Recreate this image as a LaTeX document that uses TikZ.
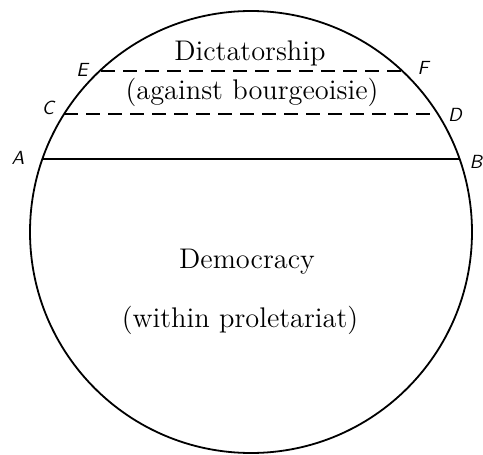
\documentclass[tikz,border=0pt]{standalone}
\usetikzlibrary{positioning}
\tikzset{
  rim/.style={draw, line width=0.9pt},
  cut/.style={line width=0.8pt},
  cutdash/.style={cut, dash pattern=on 7pt off 4pt},
  pt/.style={font=\fontsize{9.5}{11}\selectfont\sffamily\itshape, inner sep=1pt},
  region/.style={font=\fontsize{14.2}{16}\selectfont, inner sep=1pt},
}

\begin{document}
\begin{tikzpicture}[x=0.5pt, y=-0.5pt]
\useasboundingbox (0,0) rectangle (483,455);

%% ── the whole ─────────────────────────────────────────────────────────────
\node[rim, circle, minimum size=221pt, inner sep=0pt] (whole) at (251,232) {};

%% ── points on the rim ─────────────────────────────────────────────────────
\coordinate (A) at (42,159);  \coordinate (B) at (460,159);
\coordinate (C) at (64,114);  \coordinate (D) at (438,114);
\coordinate (E) at (101,71);  \coordinate (F) at (402,71);

\node[pt] (lA) at (18,158) {A};
\node[pt] (lB) at (476,162) {B};
\node[pt] (lC) at (48,108) {C};
\node[pt] (lD) at (455,115) {D};
\node[pt] (lE) at (82,70) {E};
\node[pt] (lF) at (423,68) {F};

%% ── the chords ────────────────────────────────────────────────────────────
\draw[cut] (A) -- (B);
\draw[cutdash] (C) -- (D);
\draw[cutdash] (E) -- (F);

%% ── the two regions ───────────────────────────────────────────────────────
\node[region] (dict) at (250,53) {Dictatorship};
\node[region] (dictsub) at (252,92) {(against bourgeoisie)};
\node[region] (demo) at (247,262) {Democracy};
\node[region] (demosub) at (240,320) {(within proletariat)};

\end{tikzpicture}
\end{document}
